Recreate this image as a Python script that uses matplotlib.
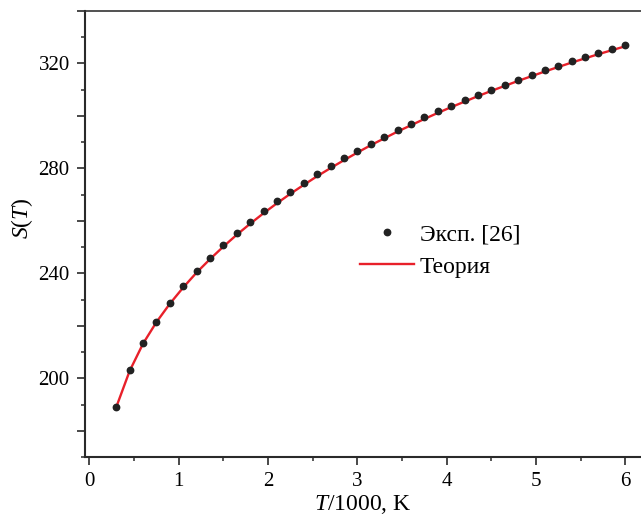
import matplotlib
matplotlib.use('Agg')
import matplotlib.pyplot as plt
import matplotlib.ticker as mticker
import numpy as np

plt.rcParams.update({
    "font.family": "serif",
    "font.serif": ["Liberation Serif", "DejaVu Serif"],
    "mathtext.fontset": "custom",
    "mathtext.rm": "Liberation Serif",
    "mathtext.it": "Liberation Serif:italic",
    "font.size": 15,
})

# experimental points, T/1000 from 0.3 to 6.0 in steps of 0.15
T_exp = [0.30, 0.45, 0.60, 0.75, 0.90, 1.05, 1.20, 1.35, 1.50, 1.65,
         1.80, 1.95, 2.10, 2.25, 2.40, 2.55, 2.70, 2.85, 3.00, 3.15,
         3.30, 3.45, 3.60, 3.75, 3.90, 4.05, 4.20, 4.35, 4.50, 4.65,
         4.80, 4.95, 5.10, 5.25, 5.40, 5.55, 5.70, 5.85, 6.00]
S_exp = [189.2, 203.0, 213.3, 221.6, 228.7, 235.0, 240.8, 245.8, 250.8, 255.4,
         259.5, 263.6, 267.5, 271.1, 274.5, 277.8, 280.9, 283.8, 286.6, 289.4,
         292.0, 294.5, 297.0, 299.4, 301.7, 303.7, 305.9, 308.0, 309.9, 311.8,
         313.8, 315.5, 317.3, 319.1, 320.8, 322.4, 324.0, 325.6, 327.0]

# theory curve
T_th = T_exp
S_th = [189.0, 202.8, 213.2, 221.4, 228.4, 234.6, 240.3, 245.4, 250.2, 254.7,
        258.9, 262.9, 266.7, 270.3, 273.7, 277.0, 280.1, 283.1, 286.0, 288.8,
        291.4, 294.0, 296.4, 298.8, 301.1, 303.3, 305.4, 307.5, 309.5, 311.4,
        313.3, 315.1, 316.9, 318.6, 320.3, 321.9, 323.5, 325.0, 326.5]

fig = plt.figure(figsize=(6.41, 5.16), dpi=100)
ax = fig.add_axes([0.1326, 0.1143, 0.8674, 0.8647])

ax.plot(T_th, S_th, color="#e8202a", linewidth=1.7, label="Теория", zorder=2)
ax.plot(T_exp, S_exp, linestyle="none", marker="o", markersize=4.6,
        color="#222222", label="Эксп. [26]", zorder=3)

ax.set_xlim(-0.05, 6.176)
ax.set_ylim(170, 340)

ax.xaxis.set_major_locator(mticker.MultipleLocator(1))
ax.xaxis.set_minor_locator(mticker.MultipleLocator(0.5))
ax.yaxis.set_major_locator(mticker.MultipleLocator(20))
ax.yaxis.set_minor_locator(mticker.MultipleLocator(10))
ax.yaxis.set_major_formatter(mticker.FuncFormatter(
    lambda v, p: f"{v:.0f}" if abs(v % 40) < 1e-6 else ""))

ax.tick_params(axis="both", which="major", direction="out", length=6,
               width=1.2, color="#2a2a2a", pad=5, labelsize=15)
ax.tick_params(axis="both", which="minor", direction="out", length=3,
               width=1.1, color="#2a2a2a")

ax.spines["right"].set_visible(False)
for s in ("left", "bottom"):
    ax.spines[s].set_linewidth(1.5)
    ax.spines[s].set_color("#2a2a2a")
ax.spines["top"].set_linewidth(1.2)
ax.spines["top"].set_color("#333333")

ax.set_xlabel(r"$T$/1000, K", fontsize=17, labelpad=1.5)
ax.set_ylabel(r"$S$($T$)", fontsize=17)
ax.yaxis.set_label_coords(-0.090, 0.535)

h, l = ax.get_legend_handles_labels()
ax.legend([h[1], h[0]], [l[1], l[0]], loc="center left",
          bbox_to_anchor=(0.4955, 0.462), frameon=False, numpoints=1,
          handlelength=2.25, handletextpad=0.25, labelspacing=0.45,
          borderpad=0, borderaxespad=0, fontsize=17)

fig.savefig("out.png", dpi=100)
